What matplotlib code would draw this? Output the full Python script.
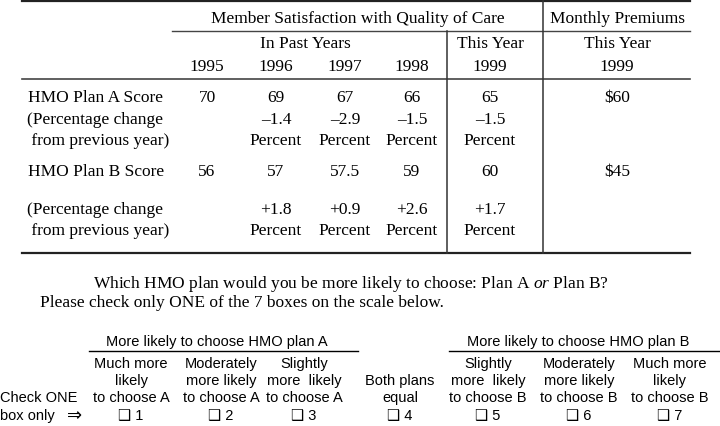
import matplotlib.pyplot as plt

# data of the table
years = ['1995', '1996', '1997', '1998', '1999']
plan_a_scores = [70, 69, 67, 66, 65]
plan_a_change = [None, -1.4, -2.9, -1.5, -1.5]
plan_b_scores = [56, 57, 57.5, 59, 60]
plan_b_change = [None, 1.8, 0.9, 2.6, 1.7]
premiums = [60, 45]

# data of the answer scale
scale_labels = ['Much more\nlikely\nto choose A', 'Moderately\nmore likely\nto choose A',
                'Slightly\nmore  likely\nto choose A', 'Both plans\nequal',
                'Slightly\nmore  likely\nto choose B', 'Moderately\nmore likely\nto choose B',
                'Much more\nlikely\nto choose B']
box_numbers = [1, 2, 3, 4, 5, 6, 7]

plt.rcParams['mathtext.fontset'] = 'custom'
plt.rcParams['mathtext.rm'] = 'Liberation Serif'
plt.rcParams['mathtext.it'] = 'Liberation Serif:italic'

serif = ['Liberation Serif', 'DejaVu Serif']
sans = ['Liberation Sans', 'DejaVu Sans']
fs = 12.5
fs2 = 10.5

fig = plt.figure(figsize=(7.2, 4.27), dpi=100)
ax = fig.add_axes([0, 0, 1, 1])
ax.set_xlim(0, 720)
ax.set_ylim(427, 0)
ax.axis('off')


def txt(x, y, s, ha='center', size=fs, family=serif, **kw):
    ax.text(x, y, s, ha=ha, va='center', fontsize=size, family=family, **kw)


# lines of the table
ax.plot([22, 690], [2, 2], color='#222222', lw=1.6)
ax.plot([172, 690], [32, 32], color='#444444', lw=1.0)
ax.plot([22, 690], [80, 80], color='#444444', lw=1.2)
ax.plot([22, 690], [254, 254], color='#222222', lw=1.6)
ax.plot([543, 543], [2, 254], color='#333333', lw=1.1)
ax.plot([447, 447], [32, 254], color='#333333', lw=1.1)

col_x = [207, 276, 345, 412, 490]
prem_x = 617

txt(358, 19, 'Member Satisfaction with Quality of Care')
txt(prem_x, 19, 'Monthly Premiums')
txt(305, 44, 'In Past Years')
txt(col_x[4], 44, 'This Year')
txt(prem_x, 44, 'This Year')
for x, yr in zip(col_x, years):
    txt(x, 67, yr)
txt(prem_x, 67, '1999')


def change_str(v):
    return ('\u2013' if v < 0 else '+') + f'{abs(v):.1f}'


rows = [(plan_a_scores, plan_a_change, 98, 120), (plan_b_scores, plan_b_change, 172, 210)]
names = ['HMO Plan A Score', 'HMO Plan B Score']
for (scores, changes, ys, yc), name, prem in zip(rows, names, premiums):
    txt(28, ys, name, ha='left')
    txt(27, yc, '(Percentage change', ha='left')
    txt(27, yc + 21, ' from previous year)', ha='left')
    for x, s, c in zip(col_x, scores, changes):
        txt(x, ys, f'{s:g}')
        if c is not None:
            txt(x, yc, change_str(c))
            txt(x, yc + 21, 'Percent')
    txt(prem_x, ys, f'${prem}')

# question
txt(93, 284, r'Which HMO plan would you be more likely to choose: Plan A $\it{or}$ Plan B?',
    ha='left')
txt(40, 303, 'Please check only ONE of the 7 boxes on the scale below.', ha='left')

# answer scale
scale_x = [131, 221, 304, 400, 488, 579, 670]
txt(217, 342, 'More likely to choose HMO plan A', size=fs2, family=sans)
txt(578, 342, 'More likely to choose HMO plan B', size=fs2, family=sans)
ax.plot([89, 358], [352, 352], color='black', lw=1.0)
ax.plot([449, 720], [352, 352], color='black', lw=1.0)
for x, lab, n in zip(scale_x, scale_labels, box_numbers):
    lines = lab.split('\n')
    y0 = 398 - 17 * (len(lines) - 1)
    for i, ln in enumerate(lines):
        txt(x, y0 + 17 * i, ln, size=fs2, family=sans)
    txt(x, 416, f'\u2751 {n}', size=fs2, family=sans)
txt(0, 398, 'Check ONE', ha='left', size=fs2, family=sans)
txt(0, 416, 'box only', ha='left', size=fs2, family=sans)
txt(75, 416, '\u21d2', size=13, family=['DejaVu Sans'])

fig.savefig('out.png', dpi=100)
